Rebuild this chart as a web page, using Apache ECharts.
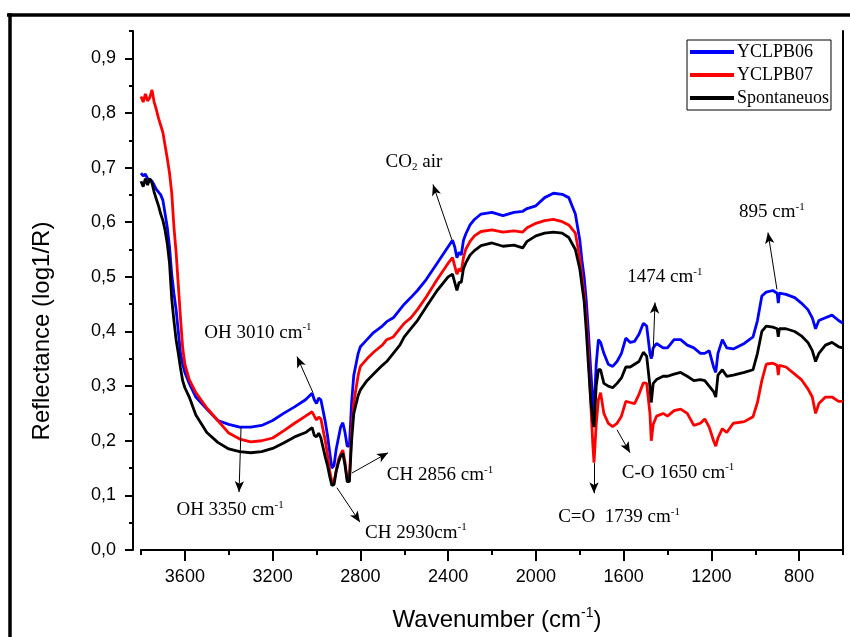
<!DOCTYPE html>
<html>
<head>
<meta charset="utf-8">
<script src="https://cdn.jsdelivr.net/npm/echarts@6/dist/echarts.min.js"></script>
<style>html,body{margin:0;padding:0;background:#fff}#c{width:850px;height:637px}</style>
</head>
<body>
<div id="c"></div>
<script>
const wavenumbers = [3800,3790,3780,3770,3760,3750,3740,3730,3720,3710,3700,3690,3680,3670,3660,3650,3640,3630,3620,3610,3600,3580,3550,3500,3450,3400,3350,3300,3250,3200,3150,3100,3050,3020,3010,3000,2990,2980,2960,2950,2940,2930,2920,2910,2900,2890,2880,2870,2860,2850,2840,2830,2810,2800,2770,2740,2700,2680,2650,2620,2600,2570,2540,2500,2450,2400,2380,2370,2360,2350,2340,2330,2320,2300,2280,2250,2200,2150,2100,2060,2040,2000,1960,1920,1880,1850,1820,1800,1790,1780,1770,1760,1750,1740,1735,1725,1715,1705,1690,1670,1650,1630,1610,1590,1570,1550,1530,1510,1495,1480,1474,1465,1450,1420,1400,1370,1340,1310,1280,1250,1230,1210,1190,1180,1170,1150,1130,1100,1050,1010,990,970,950,920,900,895,890,860,820,790,760,740,725,710,680,650,620,600];

const yclpb06 = [.690,.685,.688,.680,.678,.675,.668,.660,.655,.650,.640,.615,.590,.555,.505,.470,.440,.400,.360,.340,.325,.305,.280,.258,.237,.230,.225,.225,.228,.237,.250,.262,.275,.287,.275,.268,.278,.275,.235,.210,.180,.150,.155,.185,.205,.225,.233,.215,.190,.190,.270,.320,.360,.372,.385,.398,.410,.418,.425,.440,.450,.462,.475,.495,.525,.555,.567,.555,.535,.545,.540,.567,.578,.595,.605,.615,.618,.612,.618,.620,.625,.630,.645,.653,.651,.645,.615,.568,.530,.500,.455,.395,.330,.270,.252,.340,.385,.380,.360,.340,.336,.345,.360,.388,.380,.382,.395,.415,.410,.360,.350,.370,.378,.370,.370,.385,.385,.375,.370,.360,.360,.365,.335,.325,.360,.385,.370,.368,.378,.390,.420,.465,.472,.475,.470,.452,.470,.468,.462,.452,.440,.425,.405,.420,.425,.430,.420,.415];

const yclpb07 = [.830,.820,.835,.822,.828,.842,.820,.806,.790,.777,.764,.740,.716,.690,.654,.592,.545,.485,.425,.370,.340,.312,.288,.260,.237,.214,.203,.198,.200,.205,.218,.232,.245,.253,.245,.238,.243,.240,.200,.175,.145,.125,.125,.145,.165,.175,.183,.160,.130,.128,.220,.270,.320,.336,.350,.362,.375,.385,.390,.405,.415,.425,.440,.463,.495,.525,.535,.520,.505,.515,.510,.535,.550,.565,.575,.583,.586,.582,.584,.582,.590,.598,.603,.605,.601,.595,.580,.535,.500,.470,.420,.360,.270,.190,.160,.230,.275,.288,.250,.232,.226,.232,.245,.272,.270,.268,.285,.306,.305,.250,.200,.230,.245,.250,.245,.255,.258,.250,.228,.232,.240,.225,.200,.190,.205,.222,.215,.232,.235,.244,.270,.310,.340,.342,.338,.320,.338,.335,.322,.312,.295,.280,.250,.268,.280,.280,.272,.272];

const spontaneuos = [.675,.665,.680,.668,.680,.672,.655,.642,.630,.615,.603,.585,.560,.525,.460,.420,.385,.360,.333,.310,.297,.280,.247,.215,.197,.185,.180,.178,.180,.186,.196,.207,.215,.224,.210,.207,.214,.205,.170,.155,.135,.118,.120,.145,.160,.172,.177,.155,.125,.125,.200,.250,.283,.293,.310,.322,.338,.345,.360,.375,.390,.405,.420,.445,.475,.500,.505,.490,.475,.490,.490,.515,.525,.540,.548,.557,.562,.556,.558,.553,.565,.575,.580,.582,.580,.572,.550,.515,.485,.455,.400,.335,.275,.235,.225,.300,.330,.330,.305,.300,.297,.305,.315,.335,.335,.340,.345,.362,.355,.300,.270,.305,.312,.318,.318,.322,.325,.318,.310,.312,.310,.300,.290,.280,.320,.330,.318,.320,.325,.330,.360,.400,.410,.408,.405,.390,.405,.405,.400,.392,.380,.365,.345,.360,.375,.380,.372,.370];

const seriesNames = ['YCLPB06', 'YCLPB07', 'Spontaneuos'];
const xLabelValues = [3600, 3200, 2800, 2400, 2000, 1600, 1200, 800];
const yLabelValues = [0, 0.1, 0.2, 0.3, 0.4, 0.5, 0.6, 0.7, 0.8, 0.9];

// annotations in data space: [wavenumber, reflectance]
const annotations = [
  {label: '{a|OH 3010 cm}{s|-1}', from: [3016, 0.288], to: [3089, 0.354], at: [3267, 0.398]},
  {label: '{a|OH 3350 cm}{s|-1}', from: [3344, 0.225], to: [3353, 0.106], at: [3394, 0.073]},
  {label: '{a|CH 2856 cm}{s|-1}', from: [2838, 0.141], to: [2674, 0.178], at: [2437, 0.137]},
  {label: '{a|CH 2930cm}{s|-1}', from: [2907, 0.114], to: [2802, 0.051], at: [2547, 0.031]},
  {label: '{a|CO}{b|2}{a| air}', from: [2383, 0.568], to: [2469, 0.669], at: [2556, 0.711]},
  {label: '{a|C=O  1739 cm}{s|-1}', from: [1735, 0.159], to: [1735, 0.104], at: [1621, 0.060]},
  {label: '{a|C-O 1650 cm}{s|-1}', from: [1630, 0.220], to: [1571, 0.178], at: [1352, 0.141]},
  {label: '{a|1474 cm}{s|-1}', from: [1466, 0.354], to: [1457, 0.453], at: [1412, 0.499]},
  {label: '{a|895 cm}{s|-1}', from: [901, 0.477], to: [942, 0.581], at: [924, 0.618]}
];

const pairs = vals => wavenumbers.map((w, i) => [w, vals[i]]);
const serif = 'Liberation Serif';
const sans = 'Liberation Sans';
const richStyle = {
  a: {fontFamily: serif, fontSize: 19, color: '#000', lineHeight: 22},
  s: {fontFamily: serif, fontSize: 11, color: '#000', verticalAlign: 'top', lineHeight: 22, padding: [0, 0, 11, 0]},
  b: {fontFamily: serif, fontSize: 11, color: '#000', verticalAlign: 'bottom', lineHeight: 22, padding: [9, 0, 0, 0]}
};

const chart = echarts.init(document.getElementById('c'), null, {renderer: 'canvas'});
const X0 = {type: 'value', min: 600, max: 3800, inverse: true, gridIndex: 0};
const Y0 = {type: 'value', min: 0, max: 0.95, gridIndex: 0};

chart.setOption({
  animation: false,
  backgroundColor: '#fff',
  grid: [{left: 141, right: 7, top: 31, bottom: 87}],
  xAxis: [
    Object.assign({}, X0, {position: 'bottom', interval: 200,
      axisLine: {show: true, lineStyle: {color: '#000', width: 2}},
      axisTick: {show: true, length: 5, lineStyle: {color: '#000', width: 2}},
      axisLabel: {show: false}, splitLine: {show: false}}),
    Object.assign({}, X0, {position: 'bottom', interval: 200,
      axisLine: {show: false},
      axisTick: {show: true, length: 11, customValues: xLabelValues, lineStyle: {color: '#000', width: 2}},
      axisLabel: {show: true, customValues: xLabelValues, margin: 18, color: '#000', fontFamily: sans, fontSize: 18,
        formatter: v => String(Math.round(v))},
      splitLine: {show: false}}),
    Object.assign({}, X0, {position: 'top',
      axisLine: {show: true, lineStyle: {color: '#000', width: 2}},
      axisTick: {show: false}, axisLabel: {show: false}, splitLine: {show: false}})
  ],
  yAxis: [
    Object.assign({}, Y0, {position: 'left', offset: 8, interval: 0.05,
      axisLine: {show: true, lineStyle: {color: '#000', width: 2}},
      axisTick: {show: true, length: 4, lineStyle: {color: '#000', width: 2}},
      axisLabel: {show: false}, splitLine: {show: false}}),
    Object.assign({}, Y0, {position: 'left', offset: 8, interval: 0.05,
      axisLine: {show: false},
      axisTick: {show: true, length: 8, customValues: yLabelValues, lineStyle: {color: '#000', width: 2}},
      axisLabel: {show: true, customValues: yLabelValues, margin: 17, color: '#000', fontFamily: sans, fontSize: 18,
        formatter: v => v.toFixed(1).replace('.', ',')},
      splitLine: {show: false}}),
    Object.assign({}, Y0, {position: 'right',
      axisLine: {show: true, lineStyle: {color: '#000', width: 2}},
      axisTick: {show: false}, axisLabel: {show: false}, splitLine: {show: false}})
  ],
  legend: {
    data: seriesNames,
    orient: 'vertical',
    left: 687, top: 40,
    icon: 'rect',
    itemWidth: 44, itemHeight: 4, itemGap: 5,
    padding: [3, 2, 3, 3],
    borderColor: '#000', borderWidth: 1, borderRadius: 0,
    backgroundColor: '#fff',
    textStyle: {fontFamily: serif, fontSize: 18, color: '#000', padding: [0, 0, 0, -2]},
    selectedMode: false
  },
  series: [
    {name: seriesNames[0], type: 'line', data: pairs(yclpb06), xAxisIndex: 0, yAxisIndex: 0, showSymbol: false, symbol: 'none',
      lineStyle: {color: '#0000ff', width: 2.8}, itemStyle: {color: '#0000ff'}},
    {name: seriesNames[1], type: 'line', data: pairs(yclpb07), xAxisIndex: 0, yAxisIndex: 0, showSymbol: false, symbol: 'none',
      lineStyle: {color: '#ff0000', width: 2.8}, itemStyle: {color: '#ff0000'}},
    {name: seriesNames[2], type: 'line', data: pairs(spontaneuos), xAxisIndex: 0, yAxisIndex: 0, showSymbol: false, symbol: 'none',
      lineStyle: {color: '#000000', width: 2.8}, itemStyle: {color: '#000000'},
      markLine: {
        silent: true, animation: false,
        symbol: ['none', 'arrow'], symbolSize: [7, 11],
        label: {show: false},
        lineStyle: {color: '#000', width: 1, type: 'solid'},
        itemStyle: {color: '#000'},
        emphasis: {disabled: true},
        data: annotations.map(a => [{coord: a.from}, {coord: a.to}])
      },
      markPoint: {
        silent: true, animation: false,
        symbol: 'rect', symbolSize: 1,
        itemStyle: {color: 'rgba(0,0,0,0)'},
        label: {show: true, position: 'inside', color: '#000', rich: richStyle},
        emphasis: {disabled: true},
        data: annotations.map(a => ({coord: a.at, value: 0, label: {formatter: a.label}}))
      }
    }
  ],
  graphic: [
    {type: 'line', shape: {x1: 7, y1: 15, x2: 850, y2: 15}, style: {stroke: '#000', lineWidth: 3.5}, silent: true},
    {type: 'line', shape: {x1: 10, y1: 13.3, x2: 10, y2: 637}, style: {stroke: '#000', lineWidth: 3.5}, silent: true},
    {type: 'text', x: 42, y: 331, rotation: Math.PI / 2, silent: true,
      style: {text: 'Reflectance (log1/R)', fontFamily: sans, fontSize: 24, fill: '#000', textAlign: 'center', textVerticalAlign: 'middle'}},
    {type: 'text', x: 497, y: 620, silent: true,
      style: {text: '{t|Wavenumber (cm}{u|-1}{t|)}', textAlign: 'center', textVerticalAlign: 'middle',
        rich: {
          t: {fontFamily: sans, fontSize: 24, fill: '#000', lineHeight: 28},
          u: {fontFamily: sans, fontSize: 14, fill: '#000', verticalAlign: 'top', lineHeight: 28, padding: [0, 0, 12, 0]}
        }}}
  ]
});
</script>
</body>
</html>
